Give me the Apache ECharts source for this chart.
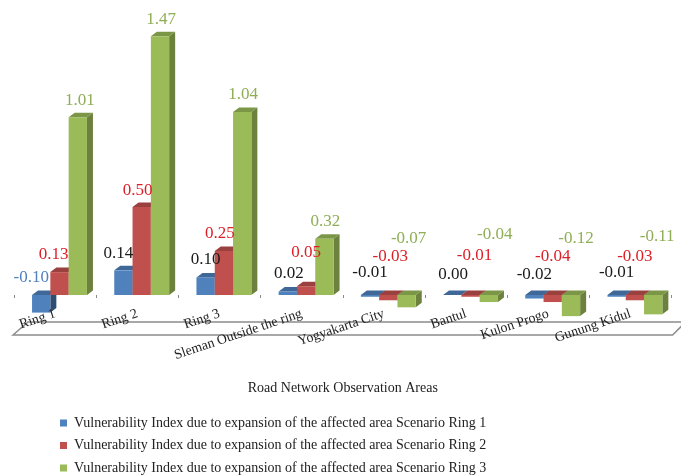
<!DOCTYPE html>
<html>
<head>
<meta charset="utf-8">
<style>html,body{margin:0;padding:0;background:#fff}#chart{width:681px;height:476px}</style>
<script src="https://cdn.jsdelivr.net/npm/echarts@6/dist/echarts.min.js"></script>
</head>
<body>
<div id="chart"></div>
<script>
// Vulnerability index per observation area
const categories = ['Ring 1', 'Ring 2', 'Ring 3', 'Sleman Outside the ring', 'Yogyakarta City', 'Bantul', 'Kulon Progo', 'Gunung Kidul'];
const ring1 = [-0.10, 0.14, 0.10, 0.02, -0.01, 0.00, -0.02, -0.01];
const ring2 = [0.13, 0.50, 0.25, 0.05, -0.03, -0.01, -0.04, -0.03];
const ring3 = [1.01, 1.47, 1.04, 0.32, -0.07, -0.04, -0.12, -0.11];
const seriesNames = [
  'Vulnerability Index due to expansion of the affected area Scenario Ring 1',
  'Vulnerability Index due to expansion of the affected area Scenario Ring 2',
  'Vulnerability Index due to expansion of the affected area Scenario Ring 3'
];

// Hand placement of the value labels, [dx, dy] from the top centre of each bar
const ring1Nudge = [[-10,-17],[-5,-17],[0,-18],[1,-18],[0,-22],[1,-20],[0,-20],[0,-22]];
const ring2Nudge = [[-6,-18],[-4,-16],[-4,-17],[0,-34],[2,-38],[4,-39],[0,-38],[0,-38]];
const ring3Nudge = [[2,-17],[1,-17],[1,-17],[1,-17],[2,-56],[6,-60],[5,-56],[4,-58]];

const FONT = '"Liberation Serif", "Times New Roman", serif';
const BAR_W = 18.3, DEPTH_X = 6, DEPTH_Y = 4.5, GROUP_SHIFT = 4.4;

const palette = [
  { front: '#4F81BD', top: '#3F6797', side: '#2F4D71', label: '#1a1a1a' },
  { front: '#C0504D', top: '#9A403E', side: '#8A3A38', label: '#DC1F26' },
  { front: '#9BBB59', top: '#7C9647', side: '#6B813D', label: '#8FAE55' }
];

function barBox(slot, api) {
  const i = api.value(0), v = api.value(1);
  const base = api.coord([i, 0]);
  const tip = api.coord([i, v]);
  const x0 = base[0] + GROUP_SHIFT + (slot - 1.5) * BAR_W;
  return {
    i, v, x0, x1: x0 + BAR_W,
    yTop: Math.min(base[1], tip[1]),
    yBot: Math.max(base[1], tip[1])
  };
}

// Front, top and side faces of one pseudo-3D column
function makeBarRenderer(slot) {
  return function (params, api) {
    const { x0, x1, yTop, yBot } = barBox(slot, api);
    const c = palette[slot];
    return {
      type: 'group',
      children: [
        { type: 'polygon', shape: { points: [[x1, yTop], [x1 + DEPTH_X, yTop - DEPTH_Y], [x1 + DEPTH_X, yBot - DEPTH_Y], [x1, yBot]] }, style: { fill: c.side } },
        { type: 'polygon', shape: { points: [[x0, yTop], [x0 + DEPTH_X, yTop - DEPTH_Y], [x1 + DEPTH_X, yTop - DEPTH_Y], [x1, yTop]] }, style: { fill: c.top } },
        { type: 'rect', shape: { x: x0, y: yTop, width: BAR_W, height: yBot - yTop }, style: { fill: c.front } }
      ]
    };
  };
}

// Value labels live in their own series so they stay above every column
function makeLabelRenderer(slot, nudges, labelColor) {
  return function (params, api) {
    const { i, v, x0, x1, yTop } = barBox(slot, api);
    const n = nudges[i];
    return {
      type: 'text',
      style: {
        x: (x0 + x1) / 2 + n[0], y: yTop + n[1],
        text: v.toFixed(2), align: 'center', verticalAlign: 'middle',
        font: '17px ' + FONT, fill: labelColor(i)
      }
    };
  };
}

// Floor plate running under the category labels
function renderFloor(params, api) {
  const band = api.size([1, 0])[0];
  const o = api.coord([0, 0]);
  const left = o[0] - band / 2;
  const right = left + categories.length * band;
  const y = o[1];
  return {
    type: 'polygon',
    shape: { points: [[left - 1, y + 40], [left + 14, y + 27], [right + 14, y + 27], [right + 1, y + 40]] },
    style: { fill: '#fff', stroke: '#8c8c8c', lineWidth: 1.5 }
  };
}

const toPairs = arr => arr.map((v, i) => [i, v]);
const seriesValues = [ring1, ring2, ring3];
const nudgeTables = [ring1Nudge, ring2Nudge, ring3Nudge];

const barSeries = seriesValues.map((values, slot) => ({
  type: 'custom',
  name: seriesNames[slot],
  coordinateSystem: 'cartesian2d',
  encode: { x: 0, y: 1 },
  z: 3 + slot,
  clip: false,
  itemStyle: { color: palette[slot].front },
  data: toPairs(values),
  renderItem: makeBarRenderer(slot)
}));

const labelSeries = seriesValues.map((values, slot) => ({
  type: 'custom',
  silent: true,
  coordinateSystem: 'cartesian2d',
  encode: { x: 0, y: 1 },
  z: 8,
  clip: false,
  data: toPairs(values),
  renderItem: makeLabelRenderer(
    slot,
    nudgeTables[slot],
    slot === 0
      ? (i => (values[i] === -0.10 ? '#4F81BD' : palette[0].label))
      : (() => palette[slot].label)
  )
}));

const chart = echarts.init(document.getElementById('chart'), null, { renderer: 'canvas' });
chart.setOption({
  animation: false,
  backgroundColor: '#fff',
  textStyle: { fontFamily: FONT },
  grid: { left: 14, width: 657.6, top: 13.4, height: 334.4 },
  legend: {
    data: seriesNames,
    orient: 'vertical',
    left: 60,
    top: 416,
    padding: 0,
    itemWidth: 7,
    itemHeight: 7,
    itemGap: 8.5,
    icon: 'rect',
    selectedMode: false,
    textStyle: { fontFamily: FONT, fontSize: 14, color: '#222', padding: [0, 0, 0, 2] }
  },
  xAxis: {
    type: 'category',
    data: categories,
    z: 10,
    name: 'Road Network Observation Areas',
    nameLocation: 'middle',
    nameGap: 34,
    nameMoveOverlap: false,
    nameTextStyle: { fontFamily: FONT, fontSize: 14, color: '#222' },
    axisLine: { show: false, onZero: true },
    axisTick: { show: true, length: 3, lineStyle: { color: '#8a8a8a', width: 1 } },
    axisLabel: { interval: 0, rotate: 18.5, margin: -34.5, fontFamily: FONT, fontSize: 13.8, color: '#222' },
    splitLine: { show: false }
  },
  yAxis: { type: 'value', min: -0.3, max: 1.6, show: false },
  series: [
    { type: 'custom', silent: true, coordinateSystem: 'cartesian2d', encode: { x: 0, y: 1 }, z: 1, clip: false, data: [[0, 0]], renderItem: renderFloor },
    ...barSeries,
    ...labelSeries
  ]
});
</script>
</body>
</html>
